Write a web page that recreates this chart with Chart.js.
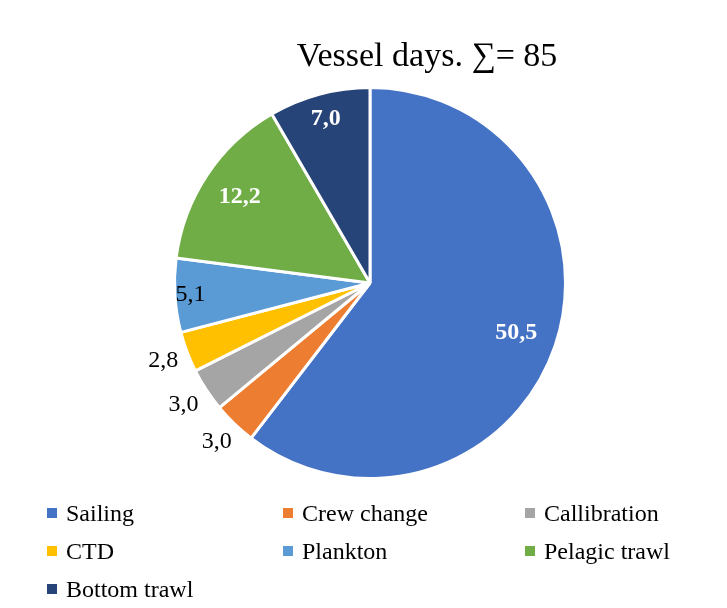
<!DOCTYPE html>
<html><head><meta charset="utf-8">
<script src="https://cdn.jsdelivr.net/npm/chart.js@4"></script>
<style>
body{margin:0;background:#fff;font-family:"Liberation Serif",serif}
#wrap{position:relative;width:727px;height:608px}
#legend{position:absolute;left:47px;top:496px;display:grid;grid-template-columns:236px 242px 200px;row-gap:4px;font-size:24px;color:#000}
#legend div{display:flex;align-items:center;height:34px}
#legend span{display:inline-block;width:10px;height:10px;margin-right:9px}
</style></head>
<body><div id="wrap"><canvas id="c" width="727" height="608"></canvas><div id="legend"></div></div>
<script>
const labels = ['Sailing','Crew change','Callibration','CTD','Plankton','Pelagic trawl','Bottom trawl'];
const values = [50.5, 3.0, 3.0, 2.8, 5.1, 12.2, 7.0];
const colors = ['#4472C4','#ED7D31','#A5A5A5','#FFC000','#5B9BD5','#70AD47','#264478'];
// label style per slice: [radius factor, colour, bold]
const labelStyle = [[0.79,'#fff',true],[1.13,'#000',false],[1.14,'#000',false],[1.13,'#000',false],[0.92,'#000',false],[0.8,'#fff',true],[0.87,'#fff',true]];

const sliceLabels = {
  id: 'sliceLabels',
  afterDraw(chart) {
    const ctx = chart.ctx;
    chart.getDatasetMeta(0).data.forEach((arc, i) => {
      const a = (arc.startAngle + arc.endAngle) / 2;
      const [f, col, bold] = labelStyle[i];
      const x = arc.x + Math.cos(a) * arc.outerRadius * f;
      const y = arc.y + Math.sin(a) * arc.outerRadius * f;
      ctx.save();
      ctx.font = (bold ? 'bold ' : '') + '24px "Liberation Serif"';
      ctx.fillStyle = col;
      ctx.textAlign = 'center';
      ctx.textBaseline = 'middle';
      ctx.fillText(values[i].toFixed(1).replace('.', ','), x, y);
      ctx.restore();
    });
    ctx.save();
    ctx.font = '34px "Liberation Serif"';
    ctx.fillStyle = '#000';
    ctx.textAlign = 'center';
    ctx.textBaseline = 'middle';
    ctx.fillText('Vessel days. \u2211= 85', 427, 57);
    ctx.restore();
  }
};

new Chart(document.getElementById('c'), {
  type: 'pie',
  data: { labels, datasets: [{ data: values, backgroundColor: colors, borderColor: '#fff', borderWidth: 3 }] },
  options: {
    responsive: false, animation: false,
    layout: { padding: { left: 173, right: 160, top: 86, bottom: 128 } },
    plugins: { legend: { display: false }, tooltip: { enabled: false } }
  },
  plugins: [sliceLabels]
});

const lg = document.getElementById('legend');
labels.forEach((l, i) => {
  const d = document.createElement('div');
  d.innerHTML = `<span style="background:${colors[i]}"></span>${l}`;
  lg.appendChild(d);
});
</script></body></html>
